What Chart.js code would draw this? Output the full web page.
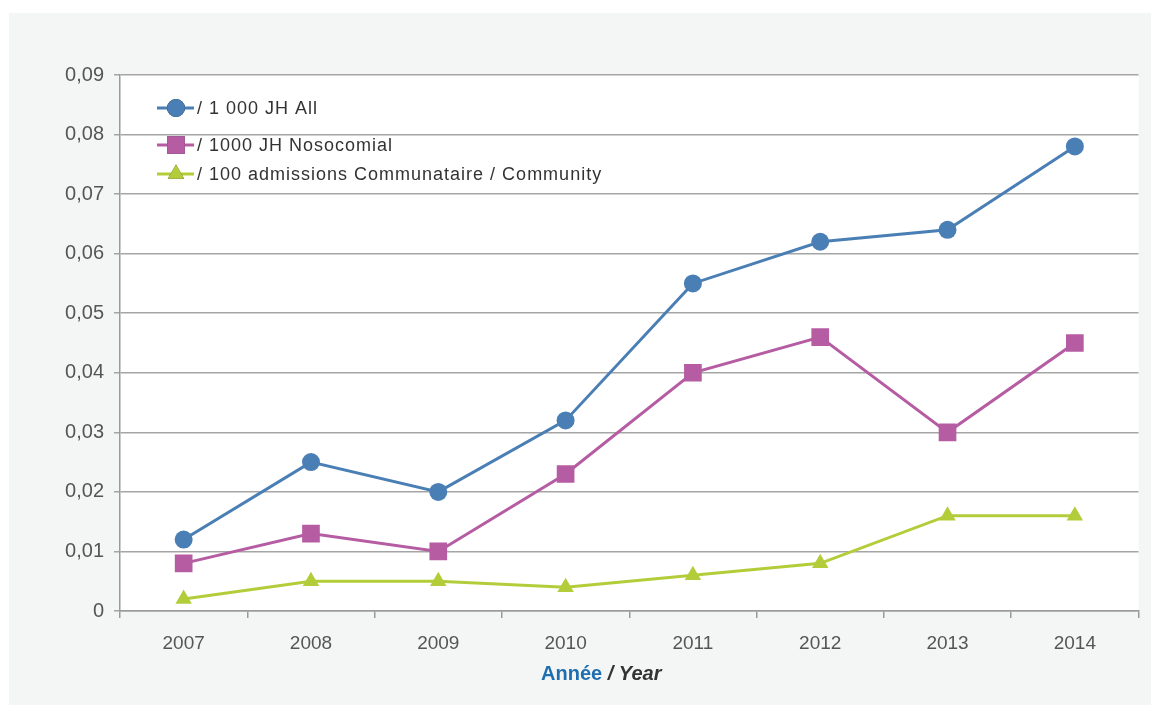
<!DOCTYPE html>
<html>
<head>
<meta charset="utf-8">
<script src="https://cdn.jsdelivr.net/npm/chart.js@4"></script>
<style>
html,body{margin:0;padding:0;background:#ffffff;}
#wrap{position:relative;width:1151px;height:705px;}
</style>
</head>
<body>
<div id="wrap"><canvas id="c" width="1151" height="705"></canvas></div>
<script>
const years = ['2007','2008','2009','2010','2011','2012','2013','2014'];
const allPer1000 = [0.012, 0.025, 0.020, 0.032, 0.055, 0.062, 0.064, 0.078];
const nosoPer1000 = [0.008, 0.013, 0.010, 0.023, 0.040, 0.046, 0.030, 0.045];
const commPer100 = [0.002, 0.005, 0.005, 0.004, 0.006, 0.008, 0.016, 0.016];
const yTickLabels = ['0','0,01','0,02','0,03','0,04','0,05','0,06','0,07','0,08','0,09'];
const seriesNames = ['/ 1 000 JH All','/ 1000 JH Nosocomial','/ 100 admissions Communataire / Community'];
const xTitleA = 'Année';
const xTitleB = ' / Year';

const FONT = '"Liberation Sans", Arial, sans-serif';

const bgPlugin = {
  id: 'bg',
  beforeDraw(chart) {
    const ctx = chart.ctx, a = chart.chartArea;
    ctx.save();
    ctx.fillStyle = '#f4f6f5';
    ctx.fillRect(9, 13, chart.width - 9, chart.height - 13);
    ctx.fillStyle = '#ffffff';
    ctx.fillRect(a.left, a.top, a.right - a.left, a.bottom - a.top);
    ctx.restore();
  }
};

const legendPlugin = {
  id: 'customLegend',
  afterDraw(chart) {
    const ctx = chart.ctx;
    const rows = [108, 145, 174];
    ctx.save();
    chart.data.datasets.forEach((ds, i) => {
      const y = rows[i];
      ctx.strokeStyle = ds.borderColor;
      ctx.lineWidth = 3;
      ctx.beginPath();
      ctx.moveTo(157, y);
      ctx.lineTo(194, y);
      ctx.stroke();
      Chart.helpers.drawPoint(ctx, {pointStyle: ds.pointStyle, radius: ds.pointRadius, borderWidth: 0}, 176, y);
      ctx.fillStyle = ds.backgroundColor;
      ctx.fill();
      ctx.fillStyle = '#333333';
      ctx.font = '18px ' + FONT;
      if ('letterSpacing' in ctx) ctx.letterSpacing = '1px';
      ctx.textBaseline = 'middle';
      ctx.textAlign = 'left';
      ctx.fillText(ds.label, 197, y + 1);
      if ('letterSpacing' in ctx) ctx.letterSpacing = '0px';
    });
    // x axis title
    ctx.textBaseline = 'middle';
    ctx.font = 'bold 20px ' + FONT;
    ctx.fillStyle = '#1f6fb0';
    ctx.fillText(xTitleA, 541, 674);
    const w = ctx.measureText(xTitleA).width;
    ctx.font = 'italic bold 20px ' + FONT;
    ctx.fillStyle = '#333333';
    ctx.fillText(xTitleB, 541 + w, 674);
    ctx.restore();
  }
};

const mk = (label, data, color, style, r) => ({
  label, data,
  borderColor: color, backgroundColor: color,
  pointBackgroundColor: color, pointBorderColor: color,
  pointStyle: style, pointRadius: r, pointHoverRadius: r,
  pointBorderWidth: 0, borderWidth: 3, tension: 0, fill: false
});

new Chart(document.getElementById('c'), {
  type: 'line',
  data: {
    labels: years,
    datasets: [
      mk(seriesNames[0], allPer1000, '#4a7fb5', 'circle', 9),
      mk(seriesNames[1], nosoPer1000, '#b55ca3', 'rect', 12.5),
      mk(seriesNames[2], commPer100, '#b3cd3a', 'triangle', 9.5)
    ]
  },
  options: {
    responsive: false,
    animation: false,
    devicePixelRatio: 1,
    layout: {padding: {top: 75, right: 12, bottom: 0, left: 0}},
    plugins: {legend: {display: false}, tooltip: {enabled: false}, title: {display: false}},
    scales: {
      x: {
        offset: true,
        grid: {offset: true, drawOnChartArea: false, drawTicks: true, tickLength: 7, color: '#9a9a9a', lineWidth: 1.5},
        border: {display: true, color: '#9a9a9a', width: 1.5},
        ticks: {color: '#555555', font: {family: FONT, size: 19}, padding: 14, maxRotation: 0},
        afterFit(s) { s.height = 94; }
      },
      y: {
        min: 0, max: 0.09,
        grid: {color: '#a5a5a5', lineWidth: 1.5, tickLength: 6},
        border: {display: true, color: '#9a9a9a', width: 1.5},
        ticks: {stepSize: 0.01, color: '#555555', font: {family: FONT, size: 20}, padding: 10,
          callback: (v, i) => yTickLabels[i]},
        afterFit(s) { s.width = 120; }
      }
    }
  },
  plugins: [bgPlugin, legendPlugin]
});
</script>
</body>
</html>
